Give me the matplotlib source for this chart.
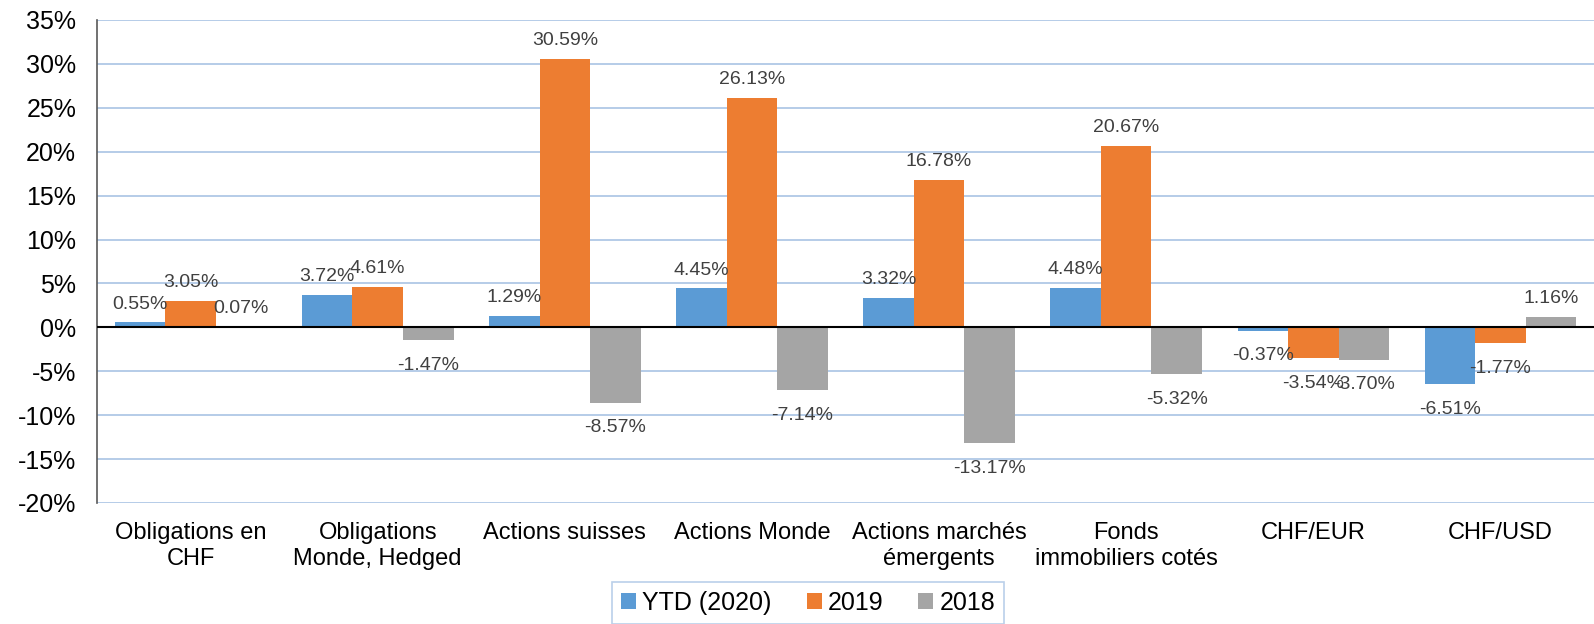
import numpy as np
import matplotlib
matplotlib.use("Agg")
import matplotlib.pyplot as plt
from matplotlib.ticker import FuncFormatter

plt.rcParams['font.family'] = ['Liberation Sans', 'DejaVu Sans']

categories = ["Obligations en\nCHF", "Obligations\nMonde, Hedged", "Actions suisses",
              "Actions Monde", "Actions marchés\némergents", "Fonds\nimmobiliers cotés",
              "CHF/EUR", "CHF/USD"]
series_names = ["YTD (2020)", "2019", "2018"]
ytd_2020 = [0.55, 3.72, 1.29, 4.45, 3.32, 4.48, -0.37, -6.51]
y_2019 = [3.05, 4.61, 30.59, 26.13, 16.78, 20.67, -3.54, -1.77]
y_2018 = [0.07, -1.47, -8.57, -7.14, -13.17, -5.32, -3.70, 1.16]
colors = ["#5B9BD5", "#ED7D31", "#A5A5A5"]

fig = plt.figure(figsize=(15.94, 6.24), dpi=100)
ax = fig.add_axes([0.0609, 0.194, 0.9391, 0.774])

x = np.arange(len(categories))
w = 0.27
for i, (vals, name, c) in enumerate(zip([ytd_2020, y_2019, y_2018], series_names, colors)):
    pos = x + (i - 1) * w
    ax.bar(pos, vals, width=w, color=c, label=name, zorder=3)
    for xp, v in zip(pos, vals):
        if v >= 0:
            ax.annotate(f"{v:.2f}%", (xp, v), xytext=(0, 7), textcoords="offset points",
                        ha="center", va="bottom", fontsize=14, color="#404040", zorder=4)
        else:
            ax.annotate(f"{v:.2f}%", (xp, v), xytext=(0, -12), textcoords="offset points",
                        ha="center", va="top", fontsize=14, color="#404040", zorder=4)

ax.set_xlim(-0.5, len(categories) - 0.5)
ax.set_ylim(-20, 35)
ax.set_yticks(np.arange(-20, 36, 5))
ax.yaxis.set_major_formatter(FuncFormatter(lambda v, p: f"{v:.0f}%"))
ax.grid(axis="y", color="#A9C4E4", linewidth=1.2, zorder=0)
ax.axhline(0, color="black", linewidth=1.5, zorder=3)

ax.set_xticks(x)
ax.set_xticklabels(categories, fontsize=17)
ax.tick_params(axis="x", length=0, pad=14)
ax.tick_params(axis="y", length=0, labelsize=18, pad=15)
for s in ["top", "right", "bottom"]:
    ax.spines[s].set_visible(False)
ax.spines["left"].set_color("#595959")
ax.spines["left"].set_linewidth(1.2)

leg = fig.legend(loc="lower center", bbox_to_anchor=(0.507, -0.02), ncol=3, fontsize=18,
                 frameon=True, fancybox=False, handlelength=0.6, handleheight=0.6,
                 handletextpad=0.25, columnspacing=1.4, borderpad=0.35)
leg.get_frame().set_edgecolor("#A9C4E4")
leg.get_frame().set_linewidth(1.2)

fig.savefig("out.png", dpi=100)
